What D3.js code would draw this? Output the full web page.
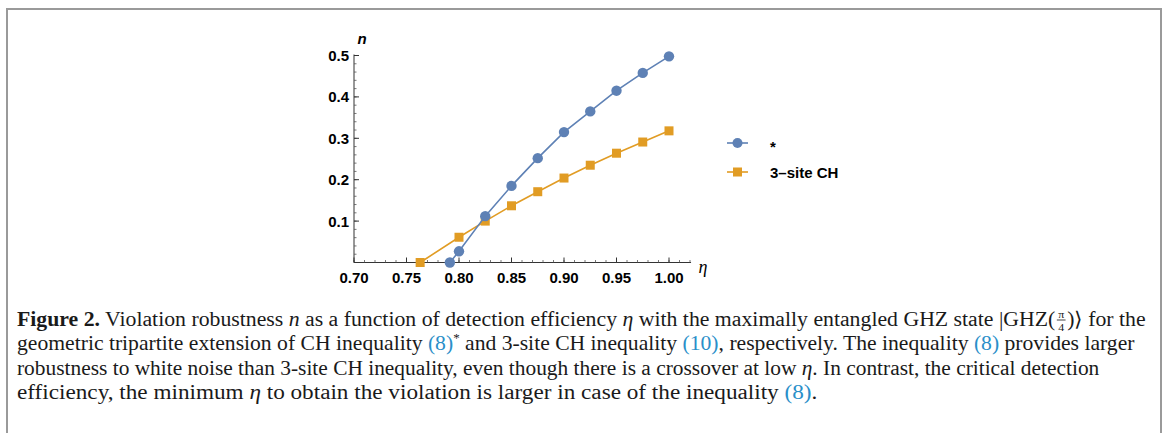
<!DOCTYPE html>
<html>
<head>
<meta charset="utf-8">
<script src="https://cdn.jsdelivr.net/npm/d3@7"></script>
<style>
  body { margin: 0; background: #fff; }
  svg { display: block; }
</style>
</head>
<body>
<svg id="chart" width="1168" height="433"></svg>
<script>
// data
const etaIneq8 = [0.7913, 0.80, 0.825, 0.85, 0.875, 0.90, 0.925, 0.95, 0.975, 1.00];
const nIneq8 = [0, 0.027, 0.112, 0.185, 0.252, 0.315, 0.365, 0.415, 0.458, 0.498];
const etaCH3 = [0.763, 0.80, 0.825, 0.85, 0.875, 0.90, 0.925, 0.95, 0.975, 1.00];
const nCH3 = [0, 0.061, 0.100, 0.137, 0.171, 0.204, 0.235, 0.264, 0.291, 0.318];
const xTicks = [0.70, 0.75, 0.80, 0.85, 0.90, 0.95, 1.00];
const yTicks = [0.1, 0.2, 0.3, 0.4, 0.5];
const seriesNames = ["*", "3\u2013site CH"];

const blue = "#5e81b5", orange = "#e19c24";
const svg = d3.select("#chart");

// frame around the figure
svg.append("path")
  .attr("d", "M7,433 V9 H1161 V433")
  .attr("fill", "none").attr("stroke", "#9a9a9a").attr("stroke-width", 2);

const x = d3.scaleLinear().domain([0.7, 1.0]).range([354, 669]);
const y = d3.scaleLinear().domain([0, 0.5]).range([262.5, 55.5]);

// axes (Mathematica style: ticks pointing inward)
const gx = svg.append("g").attr("transform", `translate(0,${y(0)})`);
gx.append("line").attr("x1", x(0.7)).attr("x2", x(1.021)).attr("stroke", "#333").attr("stroke-width", 1);
gx.selectAll(".minor").data(d3.range(0.70, 1.021, 0.01)).join("line")
  .attr("x1", d => x(d)).attr("x2", d => x(d)).attr("y1", 0).attr("y2", -2.5)
  .attr("stroke", "#555").attr("stroke-width", 0.8);
gx.selectAll(".major").data(xTicks).join("line")
  .attr("x1", d => x(d)).attr("x2", d => x(d)).attr("y1", 0).attr("y2", -5)
  .attr("stroke", "#333").attr("stroke-width", 1);
gx.selectAll("text").data(xTicks).join("text")
  .attr("x", d => x(d)).attr("y", 20)
  .attr("text-anchor", "middle")
  .style("font", "bold 15px 'Liberation Sans', Arial, sans-serif")
  .text(d => d3.format(".2f")(d));

const gy = svg.append("g").attr("transform", `translate(${x(0.7)},0)`);
gy.append("line").attr("y1", y(0)).attr("y2", y(0.5) - 1).attr("stroke", "#333").attr("stroke-width", 1);
gy.selectAll(".minor").data(d3.range(0.02, 0.5, 0.02)).join("line")
  .attr("y1", d => y(d)).attr("y2", d => y(d)).attr("x1", 0).attr("x2", 2.5)
  .attr("stroke", "#555").attr("stroke-width", 0.8);
gy.selectAll(".major").data(yTicks).join("line")
  .attr("y1", d => y(d)).attr("y2", d => y(d)).attr("x1", 0).attr("x2", 5)
  .attr("stroke", "#333").attr("stroke-width", 1);
gy.selectAll("text").data(yTicks).join("text")
  .attr("x", -5).attr("y", d => y(d) + 5.5)
  .attr("text-anchor", "end")
  .style("font", "bold 15px 'Liberation Sans', Arial, sans-serif")
  .text(d => d3.format(".1f")(d));

svg.append("text").attr("x", 362).attr("y", 44).attr("text-anchor", "middle")
  .style("font", "italic bold 15px 'Liberation Sans', Arial, sans-serif").text("n");
svg.append("text").attr("x", 703).attr("y", 273).attr("text-anchor", "middle")
  .style("font", "italic 18px 'Liberation Serif', serif").text("\u03b7");

// series
const line = d3.line().x(d => x(d[0])).y(d => y(d[1]));
const s1 = d3.zip(etaIneq8, nIneq8);
const s2 = d3.zip(etaCH3, nCH3);

const plot = svg.append("g");
plot.append("path").attr("d", line(s2)).attr("fill", "none").attr("stroke", orange).attr("stroke-width", 1.6);
plot.selectAll(".sq").data(s2).join("rect")
  .attr("x", d => x(d[0]) - 4.5).attr("y", d => y(d[1]) - 4.5)
  .attr("width", 9).attr("height", 9).attr("fill", orange);
plot.append("path").attr("d", line(s1)).attr("fill", "none").attr("stroke", blue).attr("stroke-width", 1.6);
plot.selectAll(".dot").data(s1).join("circle")
  .attr("cx", d => x(d[0])).attr("cy", d => y(d[1])).attr("r", 5.2).attr("fill", blue);

// legend
const legend = svg.append("g");
const lg = legend.selectAll("g").data(seriesNames).join("g")
  .attr("transform", (d, i) => `translate(727,${143 + i * 29})`);
lg.append("line").attr("x1", 0).attr("x2", 21).attr("stroke", (d, i) => i ? orange : blue).attr("stroke-width", 1.6);
lg.filter((d, i) => i === 0).append("circle").attr("cx", 10.5).attr("r", 5).attr("fill", blue);
lg.filter((d, i) => i === 1).append("rect").attr("x", 6).attr("y", -4.5).attr("width", 9).attr("height", 9).attr("fill", orange);
lg.append("text").attr("x", 43).attr("y", (d, i) => i ? 5.5 : 9)
  .style("font", "bold 15px 'Liberation Sans', Arial, sans-serif").text(d => d);

// caption
const link = "#2a8fc9";
const lines = [
  [["Figure 2.", "b"], [" Violation robustness "], ["n", "i"], [" as a function of detection efficiency "], ["\u03b7", "i"], [" with the maximally entangled GHZ state |GHZ("], ["FRAC"], [")\u27e9 for the"]],
  [["geometric tripartite extension of CH inequality "], ["(8)", "l"], ["*", "sup"], [" and 3-site CH inequality "], ["(10)", "l"], [", respectively. The inequality  "], ["(8)", "l"], [" provides larger"]],
  [["robustness to white noise than 3-site CH inequality, even though there is a crossover at low "], ["\u03b7", "i"], [". In contrast, the critical detection"]],
  [["efficiency, the minimum "], ["\u03b7", "i"], [" to obtain the violation is larger in case of the inequality "], ["(8)", "l"], ["."]]
];
const lineY = [326, 350.5, 375, 399.5];
const lineW = [1118, 1118, 1083, 801];
lines.forEach((parts, li) => {
  const g = svg.append("g");
  const t = g.append("text")
    .attr("x", 0).attr("y", lineY[li])
    .style("font", "20px 'Liberation Serif', 'Times New Roman', serif")
    .attr("fill", "#1a1a1a");
  let hasFrac = false, pendingDy = 0, pendingDx = 0;
  parts.forEach(([s, k]) => {
    if (s === "FRAC") { hasFrac = true; pendingDx = 11; return; }
    const sp = t.append("tspan").text(s);
    if (pendingDy) { sp.attr("dy", pendingDy); pendingDy = 0; }
    if (pendingDx) { sp.attr("dx", pendingDx); pendingDx = 0; }
    if (k === "b") sp.attr("font-weight", "bold");
    if (k === "i") sp.attr("font-style", "italic");
    if (k === "l") sp.attr("fill", link);
    if (k === "sup") { sp.attr("font-size", 12).attr("dy", -8); pendingDy = 8; }
  });
  const w = t.node().getComputedTextLength();
  const sx = lineW[li] / w;
  g.attr("transform", `translate(17,0) scale(${sx},1)`);
  if (hasFrac) {
    // fraction pi/4 after "GHZ("
    const tnode = t.node();
    const idx = tnode.textContent.indexOf("GHZ(") + 3;
    const fx = tnode.getEndPositionOfChar(idx).x + 1;
    const by = lineY[li];
    g.append("text").attr("x", fx + 4.5).attr("y", by - 8).attr("text-anchor", "middle")
      .style("font", "11px 'Liberation Serif', serif").attr("fill", "#1a1a1a").text("\u03c0");
    g.append("line").attr("x1", fx + 0.5).attr("x2", fx + 8.5).attr("y1", by - 6).attr("y2", by - 6)
      .attr("stroke", "#1a1a1a").attr("stroke-width", 0.8);
    g.append("text").attr("x", fx + 4.5).attr("y", by + 5).attr("text-anchor", "middle")
      .style("font", "11px 'Liberation Serif', serif").attr("fill", "#1a1a1a").text("4");
  }
});
</script>
</body>
</html>
